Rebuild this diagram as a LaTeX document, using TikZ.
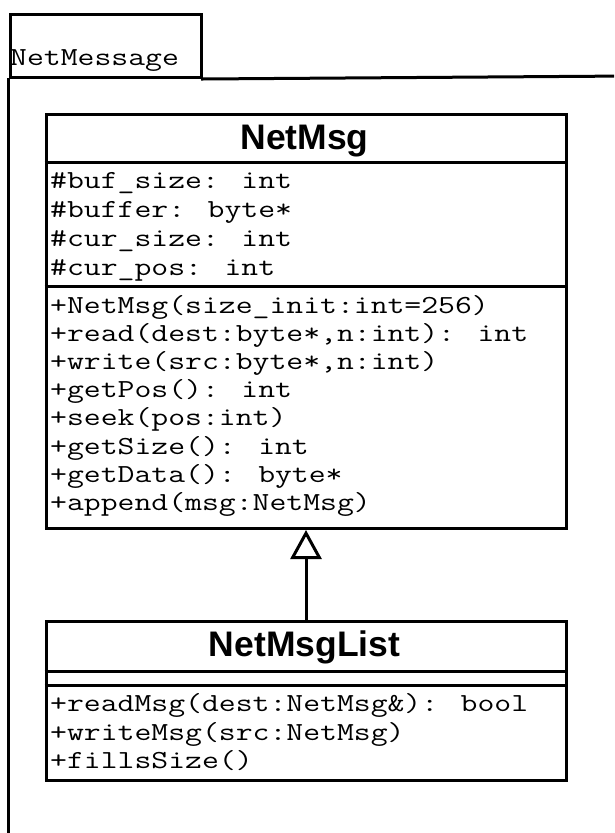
\documentclass[tikz,border=0pt]{standalone}
\usepackage{fontspec}
\usetikzlibrary{arrows.meta}
\newfontfamily\monof[FakeStretch=1.26]{Latin Modern Mono}
\newfontfamily\titlef{Liberation Sans}
\tikzset{
  frameline/.style={line width=3pt, line cap=rect},
  umlbox/.style={draw, line width=3pt, anchor=north west, inner sep=0pt, fill=white},
  monotext/.style={anchor=base west, inner sep=0pt, font=\monof\fontsize{26}{28}\selectfont},
  titletext/.style={anchor=base, inner sep=0pt, font=\titlef\bfseries\fontsize{35.5}{38}\selectfont},
  inherit/.style={line width=3pt, -{Triangle[open,length=29pt,width=31pt]}}
}
\begin{document}
\begin{tikzpicture}[x=1pt,y=-1pt]
\useasboundingbox (0,0) rectangle (614,833);
\fill[white] (0,0) rectangle (614,833);
\clip (0,0) rectangle (614,833);
% package
\node[umlbox, minimum width=191pt, minimum height=63pt] (tab) at (8.6,13) {};
\coordinate (frameright) at (630,76);
\coordinate (framebottom) at (8.6,850);
\draw[frameline] (tab.south east) -- (frameright);
\draw[frameline] (tab.south west) -- (framebottom);
\node[monotext] (pkglabel) at (10,65) {NetMessage};
% NetMsg
\node[umlbox, minimum width=520pt, minimum height=414pt] (netmsg) at (44.5,113) {};
\draw[line width=3pt] (44.5,162.5) -- (564.5,162.5);
\draw[line width=3pt] (44.5,286) -- (564.5,286);
\node[titletext] (netmsgtitle) at (304.5,149.3) {NetMsg};
\foreach \t [count=\i] in {\#buf\_size: int, \#buffer: byte*, \#cur\_size: int, \#cur\_pos: int}
  \node[monotext] (attr\i) at (50,{188.5+28.9*(\i-1)}) {\t};
\foreach \t [count=\i] in {{+NetMsg(size\_init:int=256)}, {+read(dest:byte*,n:int): int}, {+write(src:byte*,n:int)}, {+getPos(): int}, {+seek(pos:int)}, {+getSize(): int}, {+getData(): byte*}, {+append(msg:NetMsg)}}
  \node[monotext] (meth\i) at (50,{313+28.2*(\i-1)}) {\t};
% NetMsgList
\node[umlbox, minimum width=520pt, minimum height=159pt] (netmsglist) at (44.5,620) {};
\draw[line width=3pt] (44.5,671) -- (564.5,671);
\draw[line width=3pt] (44.5,685) -- (564.5,685);
\node[titletext] (listtitle) at (304.5,656.7) {NetMsgList};
\foreach \t [count=\i] in {{+readMsg(dest:NetMsg\&): bool}, {+writeMsg(src:NetMsg)}, {+fillsSize()}}
  \node[monotext] (lmeth\i) at (50,{711.7+28.3*(\i-1)}) {\t};
% inheritance
\draw[inherit] (netmsglist.north) -- (netmsg.south);
\end{tikzpicture}
\end{document}
